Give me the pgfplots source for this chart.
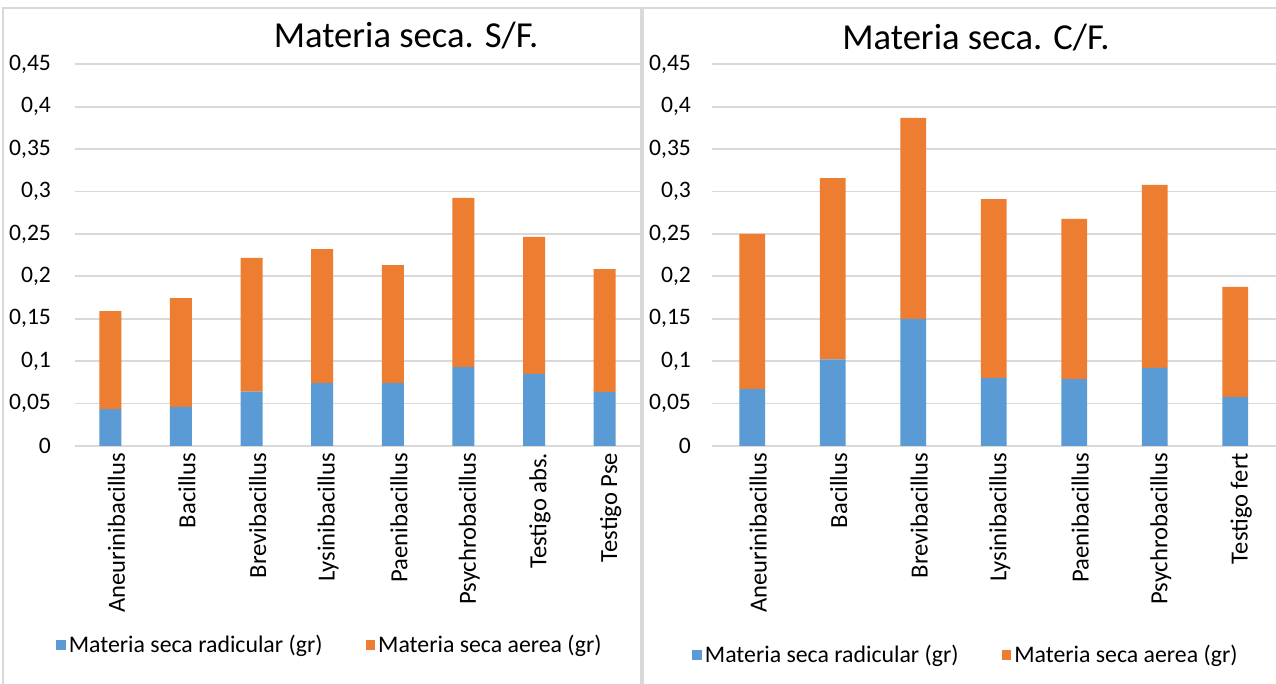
\documentclass[border=0pt]{standalone}
\usepackage{fontspec}
\setmainfont{Carlito}
\usepackage{pgfplots}
\usepackage{pgfplotstable}
\pgfplotsset{compat=1.18}
\definecolor{cblue}{HTML}{5B9BD5}
\definecolor{corange}{HTML}{ED7D31}
\definecolor{cgrid}{HTML}{D9D9D9}

\pgfplotstableread{
x rad aer
0 0.0435 0.1155
1 0.046  0.1285
2 0.064  0.1577
3 0.074  0.1583
4 0.074  0.1394
5 0.093  0.1995
6 0.085  0.1615
7 0.0636 0.1451
}\datasf

\pgfplotstableread{
x rad aer
0 0.067  0.183
1 0.102  0.214
2 0.150  0.2368
3 0.080  0.211
4 0.079  0.1887
5 0.092  0.2158
6 0.0577 0.1298
}\datacf

\pgfplotsset{
  msstyle/.style={
    scale only axis,
    height=190.8pt,
    ymin=0, ymax=0.45,
    ytick={0,0.05,0.1,0.15,0.2,0.25,0.3,0.35,0.4,0.45},
    yticklabel={\pgfmathprintnumber[use comma,fixed,precision=2,assume math mode=true]{\tick}},
    ymajorgrids,
    grid style={cgrid, line width=0.9pt},
    axis line style={draw=none},
    major tick length=0pt,
    ybar stacked,
    xtick=data,
    enlarge x limits=false,
    tick label style={font=\fontsize{11.8}{14}\selectfont, text=black},
    xticklabel style={rotate=90, anchor=east, yshift=-3pt, font=\fontsize{12.3}{14}\selectfont},
    title style={font=\fontsize{18.3}{22}\selectfont, anchor=center},
    legend columns=2,
    legend style={draw=none, fill=none, font=\fontsize{11.9}{14}\selectfont,
      /tikz/every even column/.append style={column sep=20pt},
      nodes={inner sep=1.5pt}, anchor=center},
    legend image code/.code={\fill[##1] (0pt,-2.4pt) rectangle (4.8pt,2.4pt);},
  }
}

\begin{document}
\begin{tikzpicture}
\path[use as bounding box] (0,0) rectangle (638pt,342pt);
\fill[white] (0,0) rectangle (638pt,342pt);
\draw[cgrid, line width=0.8pt] (1.5pt,-5pt) rectangle (320.5pt,338pt);
\draw[cgrid, line width=0.8pt] (321.5pt,-5pt) rectangle (645pt,338pt);

\begin{axis}[msstyle,
  at={(37.5pt,119pt)}, anchor=south west,
  width=282.5pt,
  xmin=-0.5, xmax=7.5,
  bar width=0.31,
  yticklabel style={xshift=-8.5pt},
  xticklabels={Aneurinibacillus,Bacillus,Brevibacillus,Lysinibacillus,Paenibacillus,Psychrobacillus,Testigo abs.,Testigo Pse},
  title={Materia seca. S/F.},
  title style={at={(0.586,1.043)}},
  legend style={at={(0.452,-0.521)}},
]
\addplot[fill=cblue, draw=none] table[x=x, y=rad] {\datasf};
\addplot[fill=corange, draw=none] table[x=x, y=aer] {\datasf};
\legend{Materia seca radicular (gr), Materia seca aerea (gr)}
\end{axis}

\begin{axis}[msstyle,
  at={(356pt,119pt)}, anchor=south west,
  width=281.75pt,
  xmin=-0.5, xmax=6.5,
  bar width=0.32,
  yticklabel style={xshift=-7pt},
  xticklabels={Aneurinibacillus,Bacillus,Brevibacillus,Lysinibacillus,Paenibacillus,Psychrobacillus,Testigo fert},
  title={Materia seca. C/F.},
  title style={at={(0.4685,1.038)}},
  legend style={at={(0.4516,-0.548)}},
]
\addplot[fill=cblue, draw=none] table[x=x, y=rad] {\datacf};
\addplot[fill=corange, draw=none] table[x=x, y=aer] {\datacf};
\legend{Materia seca radicular (gr), Materia seca aerea (gr)}
\end{axis}
\end{tikzpicture}
\end{document}
